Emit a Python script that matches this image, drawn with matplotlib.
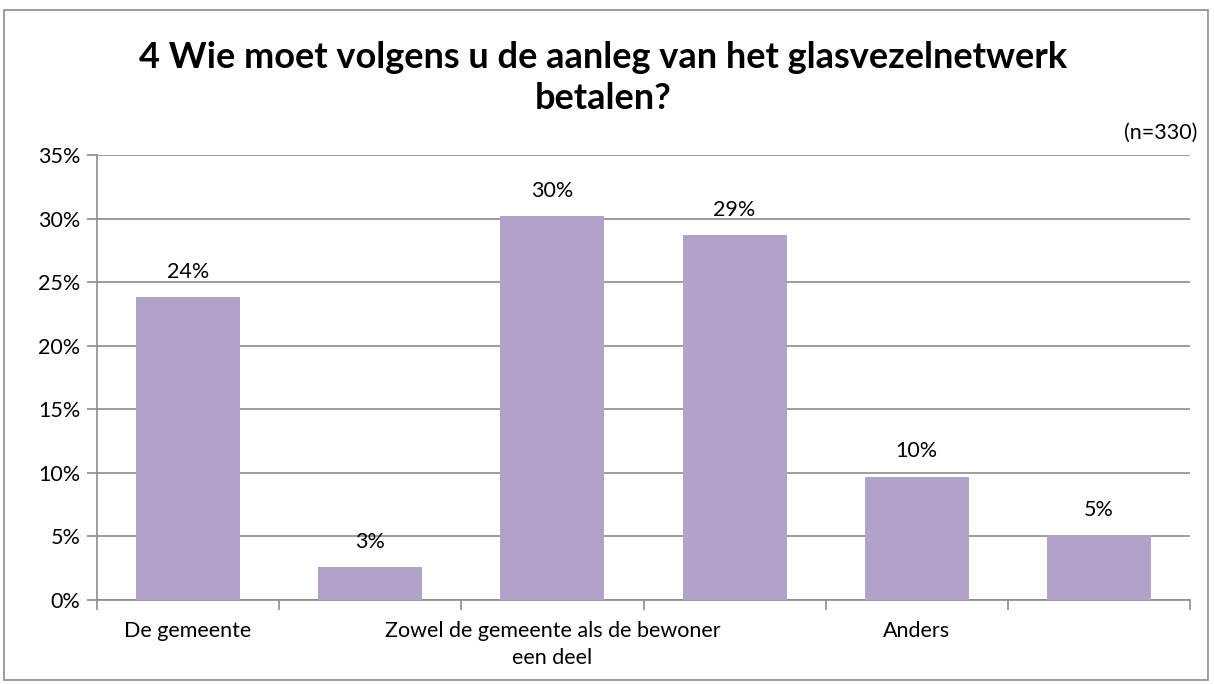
import matplotlib
matplotlib.use("Agg")
import matplotlib.pyplot as plt
from matplotlib.patches import Rectangle

categories = ["De gemeente", "", "Zowel de gemeente als de bewoner\neen deel", "", "Anders", ""]
values = [23.8, 2.6, 30.2, 28.7, 9.7, 5.1]
labels = ["24%", "3%", "30%", "29%", "10%", "5%"]
yticks = [0, 5, 10, 15, 20, 25, 30, 35]

plt.rcParams["font.family"] = ["Lato", "DejaVu Sans"]

fig = plt.figure(figsize=(12.14, 6.84), dpi=100)
ax = fig.add_axes([97 / 1214, 84 / 684, 1093 / 1214, 445 / 684])

bar_color = "#B1A2C7"
grid_color = "#8C8C8C"
fs = 15.5
x = list(range(len(values)))
ax.bar(x, values, width=0.57, color=bar_color, zorder=3)

for xi, v, lab in zip(x, values, labels):
    ax.annotate(lab, (xi, v), xytext=(0, 11), textcoords="offset points",
                ha="center", va="bottom", fontsize=fs)

ax.set_xlim(-0.5, len(values) - 0.5)
ax.set_ylim(0, 35)
ax.set_yticks(yticks)
ax.set_yticklabels([f"{t}%" for t in yticks], fontsize=fs)
ax.yaxis.grid(True, color=grid_color, linewidth=1.2, zorder=0)
ax.tick_params(axis="y", length=7, color=grid_color, width=1.2, pad=5)

# category boundaries as tick marks, labels at centres
ax.set_xticks([i - 0.5 for i in range(len(values) + 1)])
ax.set_xticklabels([])
ax.set_xticks(x, minor=True)
ax.set_xticklabels(categories, minor=True, fontsize=fs, linespacing=1.45)
ax.tick_params(axis="x", which="major", length=7, color=grid_color, width=1.2)
ax.tick_params(axis="x", which="minor", length=0, pad=15)

for side in ["top", "right"]:
    ax.spines[side].set_visible(False)
for side in ["left", "bottom"]:
    ax.spines[side].set_color(grid_color)
    ax.spines[side].set_linewidth(1.2)

fig.text(0.497, 1 - 78 / 684, "4 Wie moet volgens u de aanleg van het glasvezelnetwerk\nbetalen?",
         ha="center", va="center", fontsize=26, fontweight="bold", linespacing=1.3)
fig.text(1197 / 1214, 1 - 133 / 684, "(n=330)", ha="right", va="center", fontsize=fs)

fig.patches.append(Rectangle((4 / 1214, 4 / 684), 1204 / 1214, 670 / 684,
                             transform=fig.transFigure, fill=False,
                             edgecolor="#8C8C8C", linewidth=1.2))

fig.savefig("out.png", dpi=100)
